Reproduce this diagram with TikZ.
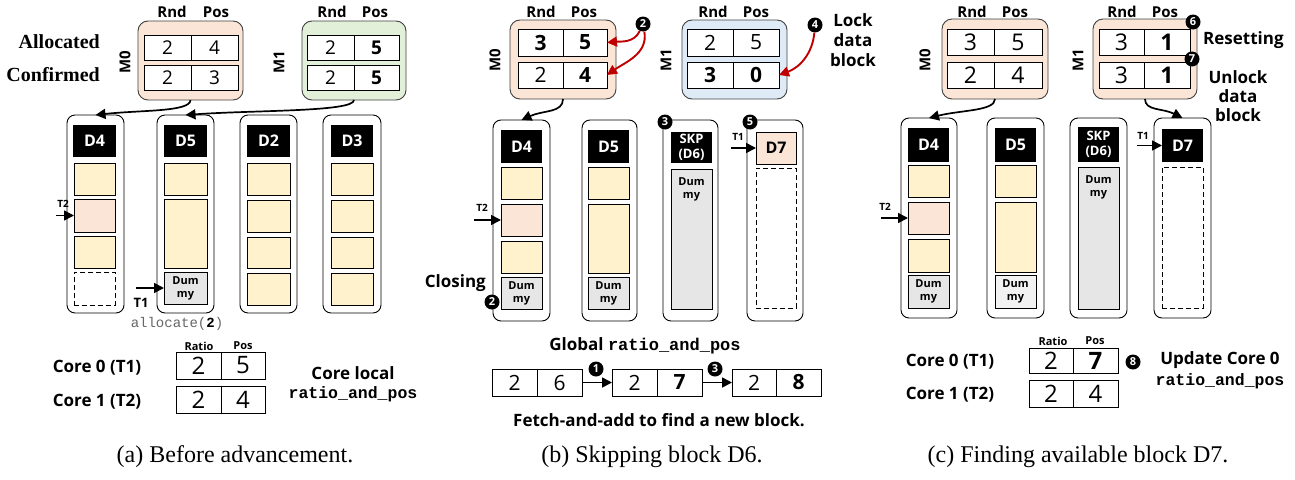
\documentclass[tikz,border=0pt]{standalone}
\usepackage{fontspec}
\setmainfont{Open Sans}
\newfontfamily\seriffont{Liberation Serif}[BoldFont={Liberation Serif Bold}]
\newfontfamily\monofont{Liberation Mono}
\usetikzlibrary{arrows.meta}
\definecolor{peach}{HTML}{FBE5D6}
\definecolor{mgreen}{HTML}{E2F0D9}
\definecolor{mblue}{HTML}{DEEBF7}
\definecolor{yel}{HTML}{FFF2CC}
\definecolor{dgray}{HTML}{E7E6E6}
\definecolor{lgray}{HTML}{F2F2F2}
\definecolor{darkred}{HTML}{C00000}
\newcommand\fs[2]{\fontsize{#1}{#2}\selectfont}
\def\vf{\fs{19}{19}}
\newcommand\drbox[7]{\node[#6,minimum width={#4-#2},minimum height={#5-#3}] (#1) at ({(#2+#4)/2},{(#3+#5)/2}) {#7};}
\newcommand\mrow[8]{\drbox{#1l}{#2}{#3}{#4}{#6}{vcell}{#7}\drbox{#1r}{#4}{#3}{#5}{#6}{vcell}{#8}}
\tikzset{
  base/.style={inner sep=0pt,outer sep=0pt},
  colbox/.style={base,draw,rounded corners=8pt,line width=0.9pt},
  mbox/.style={base,draw=black!75,rounded corners=10pt,line width=0.9pt},
  hdr/.style={base,fill=black,text=white,align=center,font=\bfseries\fs{16}{18}},
  cellb/.style={base,draw,line width=1pt},
  ycell/.style={cellb,fill=yel},
  pcell/.style={cellb,fill=peach},
  dum/.style={cellb,fill=dgray,align=center,font=\bfseries\fs{11}{13}},
  dsh/.style={base,draw,line width=1pt,dash pattern=on 5pt off 3pt},
  vcell/.style={cellb,fill=white,font=\vf},
  circ/.style={circle,fill=black,text=white,inner sep=0pt,minimum size=15pt,font=\bfseries\fs{11}{11}},
  lbl/.style={inner sep=0pt,font=\bfseries\fs{15}{17}},
  slbl/.style={inner sep=0pt,font=\bfseries\fs{10}{10}},
  tlbl/.style={inner sep=0pt,font=\seriffont\bfseries\fs{20}{22}},
  clbl/.style={inner sep=0pt,font=\bfseries\fs{17}{20},align=center},
  mlbl/.style={inner sep=0pt,font=\monofont\bfseries\fs{16.5}{18}},
  capt/.style={inner sep=0pt,font=\seriffont\fs{24}{26}},
  arr/.style={-{Triangle[length=10pt,width=10pt]},line width=1.7pt},
  rarr/.style={arr,draw=darkred,color=darkred,line width=1.9pt},
}
\begin{document}
\begin{tikzpicture}[x=1pt,y=-1pt]
\useasboundingbox (0,0) rectangle (1295,479);

% ================= (a) =================
\node[lbl] (aRnd0) at (172,12) {Rnd};
\node[lbl] (aPos0) at (216,12) {Pos};
\node[lbl] (aRnd1) at (332,12) {Rnd};
\node[lbl] (aPos1) at (375,12) {Pos};
\def\vf{\fs{19}{19}}
\drbox{aM0}{138}{21}{243}{100}{mbox,fill=peach}{}
\mrow{aM0a}{144}{35}{191}{238}{60}{2}{4}
\mrow{aM0b}{144}{65}{191}{238}{90}{2}{3}
\drbox{aM1}{302}{21}{406}{100}{mbox,fill=mgreen}{}
\mrow{aM1a}{307}{35}{354}{399}{60}{2}{\bfseries 5}
\mrow{aM1b}{307}{65}{354}{399}{90}{2}{\bfseries 5}
\node[lbl,rotate=90] (aM0t) at (125,62) {M0};
\node[lbl,rotate=90] (aM1t) at (279,62) {M1};
\node[tlbl,anchor=east] (alloc) at (100,42) {Allocated};
\node[tlbl,anchor=east] (conf) at (100,75) {Confirmed};

\drbox{aC1}{67}{115}{124}{313}{colbox}{}
\drbox{aC1h}{73}{125}{116}{157}{hdr}{D4}
\drbox{aC1a}{74}{163}{115}{195}{ycell}{}
\drbox{aC1b}{74}{199}{115}{232}{pcell}{}
\drbox{aC1c}{74}{236}{115}{268}{ycell}{}
\drbox{aC1d}{74}{272}{115}{305}{dsh}{}

\drbox{aC2}{157}{115}{214}{313}{colbox}{}
\drbox{aC2h}{164}{125}{207}{157}{hdr}{D5}
\drbox{aC2a}{164}{163}{207}{195}{ycell}{}
\drbox{aC2b}{164}{199}{207}{268}{ycell}{}
\drbox{aC2d}{164}{272}{207}{304}{dum}{Dum\\my}

\drbox{aC3}{240}{115}{297}{313}{colbox}{}
\drbox{aC3h}{247}{125}{290}{157}{hdr}{D2}
\drbox{aC3a}{247}{163}{290}{195}{ycell}{}
\drbox{aC3b}{247}{200}{290}{232}{ycell}{}
\drbox{aC3c}{247}{237}{290}{268}{ycell}{}
\drbox{aC3d}{247}{273}{290}{305}{ycell}{}

\drbox{aC4}{323}{115}{381}{313}{colbox}{}
\drbox{aC4h}{331}{125}{373}{157}{hdr}{D3}
\drbox{aC4a}{331}{163}{373}{195}{ycell}{}
\drbox{aC4b}{331}{200}{373}{232}{ycell}{}
\drbox{aC4c}{331}{237}{373}{268}{ycell}{}
\drbox{aC4d}{331}{273}{373}{305}{ycell}{}

\draw[arr] (aM0.south) .. controls +(0,12) and +(45,-5) .. (aC1.north);
\draw[arr] (aM1.south) .. controls +(0,12) and +(70,-5) .. (aC2.north);

\coordinate (aT2s) at (56,215.5);
\draw[arr] (aT2s) -- (aC1b.west);
\node[slbl] (aT2l) at (63,204) {T2};
\coordinate (aT1s) at (136,288);
\draw[arr] (aT1s) -- (aC2d.west);
\node[inner sep=0pt,font=\bfseries\fs{13}{13}] (aT1l) at (141,303) {T1};
\node[inner sep=0pt,font=\monofont\fs{14}{14},text=black!60] (aalloc) at (177,324) {allocate(\textcolor{black}{\bfseries 2})};

\node[slbl,font=\bfseries\fs{11}{11}] (aRatio) at (199,346) {Ratio};
\node[slbl,font=\bfseries\fs{11}{11}] (aPosL) at (243,346) {Pos};
\def\vf{\fs{24}{24}}
\mrow{aR1}{176}{352}{221}{265}{379}{2}{5}
\mrow{aR2}{176}{386}{221}{265}{413}{2}{4}
\node[clbl] (aCore0) at (97,368) {Core 0 (T1)};
\node[clbl] (aCore1) at (97,402) {Core 1 (T2)};
\node[clbl] (aLocal) at (353,373) {Core local};
\node[mlbl] (aRP) at (353,394) {ratio\_and\_pos};
\node[capt] (aCap) at (235,457) {(a) Before advancement.};

% ================= (b) =================
\node[lbl] (bRnd0) at (541,12) {Rnd};
\node[lbl] (bPos0) at (584,12) {Pos};
\node[lbl] (bRnd1) at (713,12) {Rnd};
\node[lbl] (bPos1) at (756,12) {Pos};
\def\vf{\fs{21}{21}}
\drbox{bM0}{510}{20}{616}{99}{mbox,fill=peach}{}
\mrow{bM0a}{518}{29}{563}{607}{56}{\bfseries 3}{\bfseries 5}
\mrow{bM0b}{518}{62}{563}{607}{88}{2}{\bfseries 4}
\drbox{bM1}{682}{20}{787}{99}{mbox,fill=mblue}{}
\mrow{bM1a}{687}{29}{733}{779}{56}{2}{5}
\mrow{bM1b}{687}{62}{733}{779}{88}{\bfseries 3}{\bfseries 0}
\node[lbl,rotate=90] (bM0t) at (495,60) {M0};
\node[lbl,rotate=90] (bM1t) at (666,60) {M1};
\node[circ] (bc2) at (643,24) {2};
\node[circ] (bc4) at (815,25) {4};
\node[clbl] (bLock) at (853,40) {Lock\\data\\block};
\draw[rarr] (bc2) to[out=-115,in=5] (bM0ar.east);
\draw[rarr] (bc2) to[out=-80,in=35] (bM0br.east);
\draw[rarr] (bc4) to[out=-95,in=20] (bM1br.east);

\drbox{bC1}{493}{120}{550}{321}{colbox}{}
\drbox{bC1h}{501}{130}{542}{163}{hdr}{D4}
\drbox{bC1a}{501}{167}{542}{199}{ycell}{}
\drbox{bC1b}{501}{204}{542}{236}{pcell}{}
\drbox{bC1c}{501}{241}{542}{273}{ycell}{}
\drbox{bC1d}{501}{277}{542}{309}{dum}{Dum\\my}

\drbox{bC2}{582}{120}{637}{321}{colbox}{}
\drbox{bC2h}{588}{130}{629}{163}{hdr}{D5}
\drbox{bC2a}{588}{167}{629}{199}{ycell}{}
\drbox{bC2b}{588}{204}{629}{273}{ycell}{}
\drbox{bC2d}{588}{277}{629}{309}{dum}{Dum\\my}

\drbox{bC3}{663}{120}{718}{321}{colbox}{}
\drbox{bC3h}{671}{132}{712}{163}{hdr,font=\bfseries\fs{13}{15}}{SKP\\(D6)}
\drbox{bC3d}{671}{169}{712}{309}{dum}{}
\node[anchor=north,inner sep=0pt,align=center,font=\bfseries\fs{11}{13}] (bC3t) at (691.5,177) {Dum\\my};

\drbox{bC4}{747}{120}{803}{321}{colbox}{}
\drbox{bC4h}{756}{132}{796}{164}{cellb,fill=peach,font=\bfseries\fs{16}{18}}{D7}
\drbox{bC4d}{756}{168}{796}{308}{dsh}{}

\draw[arr] (bM0.south) .. controls +(0,14) and +(22,-10) .. (bC1.north);
\node[circ] (bc3) at (665,122) {3};
\node[circ] (bc5) at (750,122) {5};
\node[circ] (bc2b) at (492,302) {2};
\node[clbl,anchor=east] (bClosing) at (486,283) {Closing};
\coordinate (bT2s) at (474,220);
\draw[arr] (bT2s) -- (bC1b.west);
\node[slbl] (bT2l) at (482,208) {T2};
\coordinate (bT1s) at (731,148);
\draw[arr] (bT1s) -- (bC4h.west);
\node[slbl] (bT1l) at (738,137) {T1};

\node[clbl] (bGlob) at (645,346) {Global \monofont\bfseries ratio\_and\_pos};
\mrow{bG1}{492}{369}{537}{582}{396}{2}{6}
\mrow{bG2}{612}{369}{657}{702}{396}{2}{\bfseries 7}
\mrow{bG3}{732}{369}{776}{821}{396}{2}{\bfseries 8}
\draw[arr] (bG1r.east) -- (bG2l.west);
\draw[arr] (bG2r.east) -- (bG3l.west);
\node[circ] (bc1) at (596,369) {1};
\node[circ] (bc3b) at (715,369) {3};
\node[clbl] (bFetch) at (659,420) {Fetch-and-add to find a new block.};
\node[capt] (bCap) at (652,457) {(b) Skipping block D6.};

% ================= (c) =================
\node[lbl] (cRnd0) at (972,12) {Rnd};
\node[lbl] (cPos0) at (1015,12) {Pos};
\node[lbl] (cRnd1) at (1122,12) {Rnd};
\node[lbl] (cPos1) at (1165,12) {Pos};
\def\vf{\fs{23}{23}}
\drbox{cM0}{942}{19}{1048}{99}{mbox,fill=peach}{}
\mrow{cM0a}{947}{29}{994}{1042}{55}{3}{5}
\mrow{cM0b}{947}{62}{994}{1042}{88}{2}{4}
\drbox{cM1}{1093}{19}{1197}{99}{mbox,fill=peach}{}
\mrow{cM1a}{1099}{29}{1144}{1190}{55}{3}{\bfseries 1}
\mrow{cM1b}{1099}{62}{1144}{1190}{88}{3}{\bfseries 1}
\node[lbl,rotate=90] (cM0t) at (925,60) {M0};
\node[lbl,rotate=90] (cM1t) at (1078,60) {M1};
\node[circ] (cc6) at (1193,22) {6};
\node[clbl,anchor=west] (cReset) at (1203,40) {Resetting};
\node[circ] (cc7) at (1192,59) {7};
\node[clbl,font=\bfseries\fs{17}{19}] (cUnlock) at (1238,96) {Unlock\\data\\block};

\drbox{cC1}{901}{118}{957}{318}{colbox}{}
\drbox{cC1h}{908}{128}{949}{162}{hdr}{D4}
\drbox{cC1a}{908}{165}{949}{197}{ycell}{}
\drbox{cC1b}{908}{202}{949}{234}{pcell}{}
\drbox{cC1c}{908}{239}{949}{272}{ycell}{}
\drbox{cC1d}{908}{275}{949}{308}{dum}{Dum\\my}

\drbox{cC2}{987}{118}{1044}{318}{colbox}{}
\drbox{cC2h}{995}{128}{1036}{162}{hdr}{D5}
\drbox{cC2a}{995}{165}{1036}{197}{ycell}{}
\drbox{cC2b}{995}{202}{1036}{272}{ycell}{}
\drbox{cC2d}{995}{275}{1036}{308}{dum,fill=lgray}{Dum\\my}

\drbox{cC3}{1070}{118}{1127}{318}{colbox}{}
\drbox{cC3h}{1078}{127}{1119}{162}{hdr,font=\bfseries\fs{13}{15}}{SKP\\(D6)}
\drbox{cC3d}{1078}{167}{1119}{309}{dum}{}
\node[anchor=north,inner sep=0pt,align=center,font=\bfseries\fs{11}{13}] (cC3t) at (1098.5,175) {Dum\\my};

\drbox{cC4}{1154}{118}{1211}{318}{colbox}{}
\drbox{cC4h}{1162}{129}{1203}{162}{hdr}{D7}
\drbox{cC4d}{1162}{167}{1203}{308}{dsh}{}

\draw[arr] (cM0.south) .. controls +(0,12) and +(32,-8) .. (cC1.north);
\draw[arr] (cM1.south) .. controls +(0,12) and +(-20,-10) .. (cC4.north);
\coordinate (cT2s) at (881,218);
\draw[arr] (cT2s) -- (cC1b.west);
\node[slbl] (cT2l) at (885,207) {T2};
\coordinate (cT1s) at (1137,145.5);
\draw[arr] (cT1s) -- (cC4h.west);
\node[slbl] (cT1l) at (1143,136) {T1};

\node[slbl,font=\bfseries\fs{11}{11}] (cRatio) at (1053,341) {Ratio};
\node[slbl,font=\bfseries\fs{11}{11}] (cPosL) at (1095,341) {Pos};
\def\vf{\fs{24}{24}}
\mrow{cR1}{1029}{348}{1073}{1118}{373}{2}{\bfseries 7}
\mrow{cR2}{1029}{380}{1073}{1118}{407}{2}{4}
\node[clbl] (cCore0) at (950,362) {Core 0 (T1)};
\node[clbl] (cCore1) at (950,395) {Core 1 (T2)};
\node[circ] (cc8) at (1133,362) {8};
\node[clbl] (cUpd) at (1220,360) {Update Core 0};
\node[mlbl] (cRP) at (1220,381) {ratio\_and\_pos};
\node[capt] (cCap) at (1078,457) {(c) Finding available block D7.};
\end{tikzpicture}
\end{document}
